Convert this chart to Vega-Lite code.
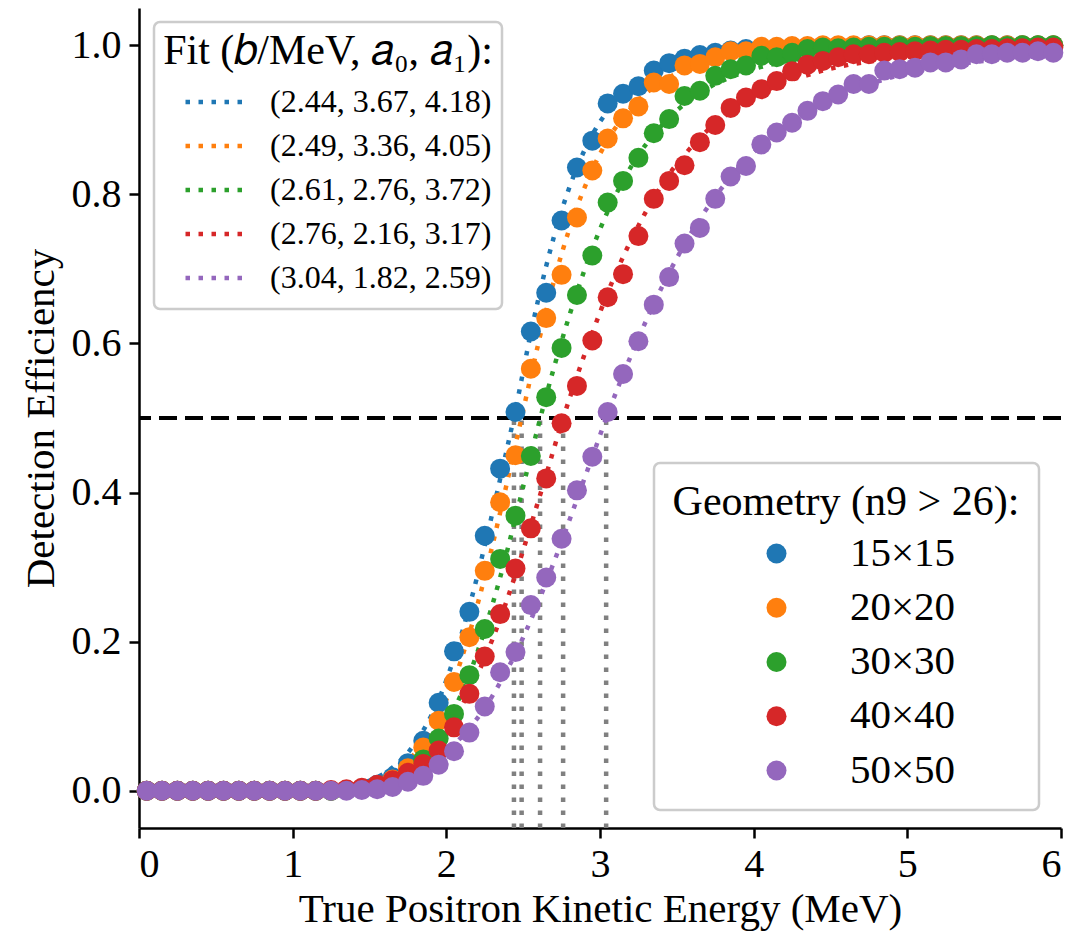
{
"$schema": "https://vega.github.io/schema/vega-lite/v6.json",
"width": 922, "height": 820,
"autosize": {"type": "none"},
"padding": {"left": 139, "top": 8, "right": 12, "bottom": 113},
"background": "white",
"config": {
  "font": "Liberation Serif",
  "view": {"stroke": null},
  "axis": {"grid": false, "domainColor": "black", "domainWidth": 2.5, "tickColor": "black", "tickWidth": 2.5, "tickSize": 10, "labelColor": "black", "titleColor": "black", "labelFont": "Liberation Serif", "titleFont": "Liberation Serif", "labelFontSize": 40, "titleFontSize": 41, "titleFontWeight": "normal"},
  "legend": {"titleFont": "Liberation Serif", "labelFont": "Liberation Serif", "titleColor": "black", "labelColor": "black", "titleFontWeight": "normal", "titleAnchor": "middle", "titleLimit": 1000, "labelLimit": 1000, "fillColor": "white", "strokeColor": "#cccccc", "cornerRadius": 6}
},
"datasets": {
  "fits": [
    {"g": "15×15", "label": "(2.44, 3.67, 4.18)", "x": 2.44},
    {"g": "20×20", "label": "(2.49, 3.36, 4.05)", "x": 2.49},
    {"g": "30×30", "label": "(2.61, 2.76, 3.72)", "x": 2.61},
    {"g": "40×40", "label": "(2.76, 2.16, 3.17)", "x": 2.76},
    {"g": "50×50", "label": "(3.04, 1.82, 2.59)", "x": 3.04}
  ],
  "pts": [
{"x":0.05,"g":"15×15","e":0,"f":0},{"x":0.15,"g":"15×15","e":0,"f":0},{"x":0.25,"g":"15×15","e":0,"f":0},{"x":0.35,"g":"15×15","e":0,"f":0},{"x":0.45,"g":"15×15","e":0,"f":0},{"x":0.55,"g":"15×15","e":0,"f":0},{"x":0.65,"g":"15×15","e":0,"f":0},{"x":0.75,"g":"15×15","e":0,"f":0},{"x":0.85,"g":"15×15","e":0,"f":0},{"x":0.95,"g":"15×15","e":0,"f":0},
{"x":1.05,"g":"15×15","e":0,"f":0.001},{"x":1.15,"g":"15×15","e":0,"f":0.001},{"x":1.25,"g":"15×15","e":0,"f":0.003},{"x":1.35,"g":"15×15","e":0.001,"f":0.005},{"x":1.45,"g":"15×15","e":0.003,"f":0.010},{"x":1.55,"g":"15×15","e":0.008,"f":0.018},{"x":1.65,"g":"15×15","e":0.018,"f":0.031},{"x":1.75,"g":"15×15","e":0.037,"f":0.051},{"x":1.85,"g":"15×15","e":0.067,"f":0.081},{"x":1.95,"g":"15×15","e":0.118,"f":0.122},
{"x":2.05,"g":"15×15","e":0.187,"f":0.178},{"x":2.15,"g":"15×15","e":0.240,"f":0.247},{"x":2.25,"g":"15×15","e":0.342,"f":0.329},{"x":2.35,"g":"15×15","e":0.432,"f":0.418},{"x":2.45,"g":"15×15","e":0.508,"f":0.511},{"x":2.55,"g":"15×15","e":0.616,"f":0.614},{"x":2.65,"g":"15×15","e":0.668,"f":0.704},{"x":2.75,"g":"15×15","e":0.765,"f":0.778},{"x":2.85,"g":"15×15","e":0.836,"f":0.836},{"x":2.95,"g":"15×15","e":0.872,"f":0.880},
{"x":3.05,"g":"15×15","e":0.922,"f":0.912},{"x":3.15,"g":"15×15","e":0.935,"f":0.936},{"x":3.25,"g":"15×15","e":0.945,"f":0.953},{"x":3.35,"g":"15×15","e":0.966,"f":0.965},{"x":3.45,"g":"15×15","e":0.976,"f":0.974},{"x":3.55,"g":"15×15","e":0.982,"f":0.981},{"x":3.65,"g":"15×15","e":0.987,"f":0.986},{"x":3.75,"g":"15×15","e":0.990,"f":0.989},{"x":3.85,"g":"15×15","e":0.993,"f":0.992},{"x":3.95,"g":"15×15","e":0.995,"f":0.994},
{"x":4.05,"g":"15×15","e":0.996,"f":0.995},{"x":4.15,"g":"15×15","e":0.997,"f":0.996},{"x":4.25,"g":"15×15","e":0.998,"f":0.997},{"x":4.35,"g":"15×15","e":0.998,"f":0.998},{"x":4.45,"g":"15×15","e":0.999,"f":0.998},{"x":4.55,"g":"15×15","e":0.999,"f":0.999},{"x":4.65,"g":"15×15","e":0.999,"f":0.999},{"x":4.75,"g":"15×15","e":1,"f":0.999},{"x":4.85,"g":"15×15","e":1,"f":0.999},{"x":4.95,"g":"15×15","e":1,"f":0.999},
{"x":5.05,"g":"15×15","e":1,"f":1},{"x":5.15,"g":"15×15","e":1,"f":1},{"x":5.25,"g":"15×15","e":1,"f":1},{"x":5.35,"g":"15×15","e":1,"f":1},{"x":5.45,"g":"15×15","e":1,"f":1},{"x":5.55,"g":"15×15","e":1,"f":1},{"x":5.65,"g":"15×15","e":1,"f":1},{"x":5.75,"g":"15×15","e":1,"f":1},{"x":5.85,"g":"15×15","e":1,"f":1},{"x":5.95,"g":"15×15","e":1,"f":1},

{"x":0.05,"g":"20×20","e":0,"f":0},{"x":0.15,"g":"20×20","e":0,"f":0},{"x":0.25,"g":"20×20","e":0,"f":0},{"x":0.35,"g":"20×20","e":0,"f":0},{"x":0.45,"g":"20×20","e":0,"f":0},{"x":0.55,"g":"20×20","e":0,"f":0},{"x":0.65,"g":"20×20","e":0,"f":0},{"x":0.75,"g":"20×20","e":0,"f":0},{"x":0.85,"g":"20×20","e":0,"f":0},{"x":0.95,"g":"20×20","e":0,"f":0},
{"x":1.05,"g":"20×20","e":0,"f":0},{"x":1.15,"g":"20×20","e":0,"f":0.001},{"x":1.25,"g":"20×20","e":0,"f":0.002},{"x":1.35,"g":"20×20","e":0.001,"f":0.004},{"x":1.45,"g":"20×20","e":0.003,"f":0.008},{"x":1.55,"g":"20×20","e":0.007,"f":0.014},{"x":1.65,"g":"20×20","e":0.015,"f":0.024},{"x":1.75,"g":"20×20","e":0.030,"f":0.040},{"x":1.85,"g":"20×20","e":0.058,"f":0.065},{"x":1.95,"g":"20×20","e":0.094,"f":0.100},
{"x":2.05,"g":"20×20","e":0.146,"f":0.148},{"x":2.15,"g":"20×20","e":0.206,"f":0.211},{"x":2.25,"g":"20×20","e":0.295,"f":0.287},{"x":2.35,"g":"20×20","e":0.387,"f":0.373},{"x":2.45,"g":"20×20","e":0.450,"f":0.464},{"x":2.55,"g":"20×20","e":0.566,"f":0.556},{"x":2.65,"g":"20×20","e":0.634,"f":0.644},{"x":2.75,"g":"20×20","e":0.692,"f":0.720},{"x":2.85,"g":"20×20","e":0.769,"f":0.783},{"x":2.95,"g":"20×20","e":0.832,"f":0.833},
{"x":3.05,"g":"20×20","e":0.875,"f":0.873},{"x":3.15,"g":"20×20","e":0.902,"f":0.903},{"x":3.25,"g":"20×20","e":0.918,"f":0.926},{"x":3.35,"g":"20×20","e":0.950,"f":0.944},{"x":3.45,"g":"20×20","e":0.948,"f":0.957},{"x":3.55,"g":"20×20","e":0.973,"f":0.967},{"x":3.65,"g":"20×20","e":0.975,"f":0.974},{"x":3.75,"g":"20×20","e":0.984,"f":0.980},{"x":3.85,"g":"20×20","e":0.992,"f":0.984},{"x":3.95,"g":"20×20","e":0.992,"f":0.988},
{"x":4.05,"g":"20×20","e":0.998,"f":0.990},{"x":4.15,"g":"20×20","e":0.998,"f":0.992},{"x":4.25,"g":"20×20","e":0.999,"f":0.994},{"x":4.35,"g":"20×20","e":0.999,"f":0.995},{"x":4.45,"g":"20×20","e":1,"f":0.996},{"x":4.55,"g":"20×20","e":1,"f":0.997},{"x":4.65,"g":"20×20","e":1,"f":0.997},{"x":4.75,"g":"20×20","e":1,"f":0.998},{"x":4.85,"g":"20×20","e":1,"f":0.998},{"x":4.95,"g":"20×20","e":1,"f":0.999},
{"x":5.05,"g":"20×20","e":1,"f":0.999},{"x":5.15,"g":"20×20","e":1,"f":0.999},{"x":5.25,"g":"20×20","e":1,"f":0.999},{"x":5.35,"g":"20×20","e":1,"f":0.999},{"x":5.45,"g":"20×20","e":1,"f":0.999},{"x":5.55,"g":"20×20","e":1,"f":0.999},{"x":5.65,"g":"20×20","e":1,"f":0.999},{"x":5.75,"g":"20×20","e":1,"f":1},{"x":5.85,"g":"20×20","e":1,"f":1},{"x":5.95,"g":"20×20","e":1,"f":1},

{"x":0.05,"g":"30×30","e":0,"f":0},{"x":0.15,"g":"30×30","e":0,"f":0},{"x":0.25,"g":"30×30","e":0,"f":0},{"x":0.35,"g":"30×30","e":0,"f":0},{"x":0.45,"g":"30×30","e":0,"f":0},{"x":0.55,"g":"30×30","e":0,"f":0},{"x":0.65,"g":"30×30","e":0,"f":0},{"x":0.75,"g":"30×30","e":0,"f":0},{"x":0.85,"g":"30×30","e":0,"f":0},{"x":0.95,"g":"30×30","e":0,"f":0},
{"x":1.05,"g":"30×30","e":0,"f":0},{"x":1.15,"g":"30×30","e":0,"f":0.001},{"x":1.25,"g":"30×30","e":0,"f":0.002},{"x":1.35,"g":"30×30","e":0.001,"f":0.003},{"x":1.45,"g":"30×30","e":0.002,"f":0.006},{"x":1.55,"g":"30×30","e":0.005,"f":0.011},{"x":1.65,"g":"30×30","e":0.011,"f":0.018},{"x":1.75,"g":"30×30","e":0.022,"f":0.030},{"x":1.85,"g":"30×30","e":0.042,"f":0.048},{"x":1.95,"g":"30×30","e":0.070,"f":0.073},
{"x":2.05,"g":"30×30","e":0.103,"f":0.109},{"x":2.15,"g":"30×30","e":0.155,"f":0.156},{"x":2.25,"g":"30×30","e":0.217,"f":0.216},{"x":2.35,"g":"30×30","e":0.311,"f":0.286},{"x":2.45,"g":"30×30","e":0.369,"f":0.366},{"x":2.55,"g":"30×30","e":0.449,"f":0.450},{"x":2.65,"g":"30×30","e":0.528,"f":0.530},{"x":2.75,"g":"30×30","e":0.594,"f":0.603},{"x":2.85,"g":"30×30","e":0.665,"f":0.669},{"x":2.95,"g":"30×30","e":0.718,"f":0.727},
{"x":3.05,"g":"30×30","e":0.789,"f":0.777},{"x":3.15,"g":"30×30","e":0.818,"f":0.818},{"x":3.25,"g":"30×30","e":0.849,"f":0.853},{"x":3.35,"g":"30×30","e":0.882,"f":0.880},{"x":3.45,"g":"30×30","e":0.901,"f":0.903},{"x":3.55,"g":"30×30","e":0.932,"f":0.921},{"x":3.65,"g":"30×30","e":0.939,"f":0.936},{"x":3.75,"g":"30×30","e":0.959,"f":0.948},{"x":3.85,"g":"30×30","e":0.968,"f":0.957},{"x":3.95,"g":"30×30","e":0.973,"f":0.965},
{"x":4.05,"g":"30×30","e":0.986,"f":0.971},{"x":4.15,"g":"30×30","e":0.984,"f":0.976},{"x":4.25,"g":"30×30","e":0.990,"f":0.980},{"x":4.35,"g":"30×30","e":0.995,"f":0.983},{"x":4.45,"g":"30×30","e":0.997,"f":0.986},{"x":4.55,"g":"30×30","e":0.996,"f":0.988},{"x":4.65,"g":"30×30","e":0.997,"f":0.990},{"x":4.75,"g":"30×30","e":0.998,"f":0.992},{"x":4.85,"g":"30×30","e":0.998,"f":0.993},{"x":4.95,"g":"30×30","e":0.999,"f":0.994},
{"x":5.05,"g":"30×30","e":0.998,"f":0.995},{"x":5.15,"g":"30×30","e":0.999,"f":0.996},{"x":5.25,"g":"30×30","e":0.999,"f":0.996},{"x":5.35,"g":"30×30","e":0.999,"f":0.997},{"x":5.45,"g":"30×30","e":0.999,"f":0.997},{"x":5.55,"g":"30×30","e":1,"f":0.998},{"x":5.65,"g":"30×30","e":0.999,"f":0.998},{"x":5.75,"g":"30×30","e":1,"f":0.998},{"x":5.85,"g":"30×30","e":1,"f":0.998},{"x":5.95,"g":"30×30","e":1,"f":0.999},

{"x":0.05,"g":"40×40","e":0,"f":0},{"x":0.15,"g":"40×40","e":0,"f":0},{"x":0.25,"g":"40×40","e":0,"f":0},{"x":0.35,"g":"40×40","e":0,"f":0},{"x":0.45,"g":"40×40","e":0,"f":0},{"x":0.55,"g":"40×40","e":0,"f":0},{"x":0.65,"g":"40×40","e":0,"f":0},{"x":0.75,"g":"40×40","e":0,"f":0},{"x":0.85,"g":"40×40","e":0,"f":0},{"x":0.95,"g":"40×40","e":0,"f":0},
{"x":1.05,"g":"40×40","e":0,"f":0.001},{"x":1.15,"g":"40×40","e":0,"f":0.001},{"x":1.25,"g":"40×40","e":0.001,"f":0.003},{"x":1.35,"g":"40×40","e":0.002,"f":0.005},{"x":1.45,"g":"40×40","e":0.004,"f":0.008},{"x":1.55,"g":"40×40","e":0.008,"f":0.013},{"x":1.65,"g":"40×40","e":0.014,"f":0.021},{"x":1.75,"g":"40×40","e":0.024,"f":0.032},{"x":1.85,"g":"40×40","e":0.036,"f":0.047},{"x":1.95,"g":"40×40","e":0.054,"f":0.069},
{"x":2.05,"g":"40×40","e":0.085,"f":0.097},{"x":2.15,"g":"40×40","e":0.130,"f":0.133},{"x":2.25,"g":"40×40","e":0.180,"f":0.178},{"x":2.35,"g":"40×40","e":0.237,"f":0.230},{"x":2.45,"g":"40×40","e":0.298,"f":0.290},{"x":2.55,"g":"40×40","e":0.352,"f":0.356},{"x":2.65,"g":"40×40","e":0.419,"f":0.424},{"x":2.75,"g":"40×40","e":0.493,"f":0.493},{"x":2.85,"g":"40×40","e":0.543,"f":0.556},{"x":2.95,"g":"40×40","e":0.604,"f":0.614},
{"x":3.05,"g":"40×40","e":0.662,"f":0.668},{"x":3.15,"g":"40×40","e":0.693,"f":0.716},{"x":3.25,"g":"40×40","e":0.744,"f":0.758},{"x":3.35,"g":"40×40","e":0.794,"f":0.795},{"x":3.45,"g":"40×40","e":0.818,"f":0.827},{"x":3.55,"g":"40×40","e":0.839,"f":0.853},{"x":3.65,"g":"40×40","e":0.870,"f":0.876},{"x":3.75,"g":"40×40","e":0.893,"f":0.895},{"x":3.85,"g":"40×40","e":0.916,"f":0.911},{"x":3.95,"g":"40×40","e":0.930,"f":0.925},
{"x":4.05,"g":"40×40","e":0.941,"f":0.936},{"x":4.15,"g":"40×40","e":0.952,"f":0.946},{"x":4.25,"g":"40×40","e":0.965,"f":0.954},{"x":4.35,"g":"40×40","e":0.974,"f":0.960},{"x":4.45,"g":"40×40","e":0.979,"f":0.966},{"x":4.55,"g":"40×40","e":0.984,"f":0.971},{"x":4.65,"g":"40×40","e":0.988,"f":0.975},{"x":4.75,"g":"40×40","e":0.988,"f":0.978},{"x":4.85,"g":"40×40","e":0.990,"f":0.981},{"x":4.95,"g":"40×40","e":0.991,"f":0.984},
{"x":5.05,"g":"40×40","e":0.992,"f":0.986},{"x":5.15,"g":"40×40","e":0.993,"f":0.987},{"x":5.25,"g":"40×40","e":0.994,"f":0.989},{"x":5.35,"g":"40×40","e":0.994,"f":0.990},{"x":5.45,"g":"40×40","e":0.995,"f":0.992},{"x":5.55,"g":"40×40","e":0.995,"f":0.993},{"x":5.65,"g":"40×40","e":0.996,"f":0.993},{"x":5.75,"g":"40×40","e":0.996,"f":0.994},{"x":5.85,"g":"40×40","e":0.997,"f":0.995},{"x":5.95,"g":"40×40","e":0.997,"f":0.995},

{"x":0.05,"g":"50×50","e":0,"f":0},{"x":0.15,"g":"50×50","e":0,"f":0},{"x":0.25,"g":"50×50","e":0,"f":0},{"x":0.35,"g":"50×50","e":0,"f":0},{"x":0.45,"g":"50×50","e":0,"f":0},{"x":0.55,"g":"50×50","e":0,"f":0},{"x":0.65,"g":"50×50","e":0,"f":0},{"x":0.75,"g":"50×50","e":0,"f":0},{"x":0.85,"g":"50×50","e":0,"f":0},{"x":0.95,"g":"50×50","e":0,"f":0},
{"x":1.05,"g":"50×50","e":0,"f":0.001},{"x":1.15,"g":"50×50","e":0,"f":0.001},{"x":1.25,"g":"50×50","e":0,"f":0.002},{"x":1.35,"g":"50×50","e":0,"f":0.004},{"x":1.45,"g":"50×50","e":0.001,"f":0.006},{"x":1.55,"g":"50×50","e":0.002,"f":0.010},{"x":1.65,"g":"50×50","e":0.005,"f":0.015},{"x":1.75,"g":"50×50","e":0.012,"f":0.022},{"x":1.85,"g":"50×50","e":0.020,"f":0.032},{"x":1.95,"g":"50×50","e":0.035,"f":0.045},
{"x":2.05,"g":"50×50","e":0.053,"f":0.062},{"x":2.15,"g":"50×50","e":0.078,"f":0.084},{"x":2.25,"g":"50×50","e":0.113,"f":0.111},{"x":2.35,"g":"50×50","e":0.159,"f":0.145},{"x":2.45,"g":"50×50","e":0.186,"f":0.184},{"x":2.55,"g":"50×50","e":0.249,"f":0.229},{"x":2.65,"g":"50×50","e":0.286,"f":0.280},{"x":2.75,"g":"50×50","e":0.338,"f":0.334},{"x":2.85,"g":"50×50","e":0.403,"f":0.391},{"x":2.95,"g":"50×50","e":0.448,"f":0.448},
{"x":3.05,"g":"50×50","e":0.508,"f":0.505},{"x":3.15,"g":"50×50","e":0.559,"f":0.558},{"x":3.25,"g":"50×50","e":0.603,"f":0.607},{"x":3.35,"g":"50×50","e":0.652,"f":0.653},{"x":3.45,"g":"50×50","e":0.689,"f":0.695},{"x":3.55,"g":"50×50","e":0.734,"f":0.733},{"x":3.65,"g":"50×50","e":0.755,"f":0.767},{"x":3.75,"g":"50×50","e":0.794,"f":0.797},{"x":3.85,"g":"50×50","e":0.824,"f":0.823},{"x":3.95,"g":"50×50","e":0.838,"f":0.846},
{"x":4.05,"g":"50×50","e":0.867,"f":0.866},{"x":4.15,"g":"50×50","e":0.883,"f":0.883},{"x":4.25,"g":"50×50","e":0.896,"f":0.898},{"x":4.35,"g":"50×50","e":0.912,"f":0.911},{"x":4.45,"g":"50×50","e":0.925,"f":0.923},{"x":4.55,"g":"50×50","e":0.934,"f":0.932},{"x":4.65,"g":"50×50","e":0.948,"f":0.941},{"x":4.75,"g":"50×50","e":0.948,"f":0.948},{"x":4.85,"g":"50×50","e":0.966,"f":0.954},{"x":4.95,"g":"50×50","e":0.968,"f":0.960},
{"x":5.05,"g":"50×50","e":0.970,"f":0.964},{"x":5.15,"g":"50×50","e":0.977,"f":0.969},{"x":5.25,"g":"50×50","e":0.977,"f":0.972},{"x":5.35,"g":"50×50","e":0.981,"f":0.975},{"x":5.45,"g":"50×50","e":0.988,"f":0.978},{"x":5.55,"g":"50×50","e":0.988,"f":0.980},{"x":5.65,"g":"50×50","e":0.990,"f":0.983},{"x":5.75,"g":"50×50","e":0.990,"f":0.984},{"x":5.85,"g":"50×50","e":0.992,"f":0.986},{"x":5.95,"g":"50×50","e":0.990,"f":0.987}
  ]
},
"layer": [
  {
    "data": {"values": [{"y": 0.5}]},
    "mark": {"type": "rule", "color": "black", "strokeWidth": 4, "strokeDash": [18, 8]},
    "encoding": {
      "y": {"field": "y", "type": "quantitative", "title": "Detection Efficiency", "scale": {"domain": [-0.05, 1.05], "nice": false, "zero": false}}
    }
  },
  {
    "data": {"name": "fits"},
    "mark": {"type": "rule", "color": "#808080", "strokeWidth": 4.5, "strokeDash": [4.5, 8.5]},
    "encoding": {
      "x": {"field": "x", "type": "quantitative", "title": "True Positron Kinetic Energy (MeV)", "scale": {"domain": [0, 6], "nice": false}},
      "y": {"datum": -0.05},
      "y2": {"datum": 0.5}
    }
  },
  {
    "data": {"name": "pts"},
    "transform": [{"lookup": "g", "from": {"data": {"name": "fits"}, "key": "g", "fields": ["label"]}}],
    "mark": {"type": "line", "strokeWidth": 4.5, "strokeDash": [4.5, 8.5], "interpolate": "monotone"},
    "encoding": {
      "x": {"field": "x", "type": "quantitative", "title": "True Positron Kinetic Energy (MeV)", "scale": {"domain": [0, 6], "nice": false}},
      "y": {"field": "f", "type": "quantitative", "title": "Detection Efficiency", "scale": {"domain": [-0.05, 1.05], "nice": false, "zero": false}},
      "stroke": {
        "field": "label", "type": "nominal",
        "scale": {"domain": ["(2.44, 3.67, 4.18)", "(2.49, 3.36, 4.05)", "(2.61, 2.76, 3.72)", "(2.76, 2.16, 3.17)", "(3.04, 1.82, 2.59)"], "range": ["#1f77b4", "#ff7f0e", "#2ca02c", "#d62728", "#9467bd"]},
        "legend": {
          "title": "Fit (𝑏/MeV, 𝑎₀, 𝑎₁):",
          "orient": "none", "legendX": 15, "legendY": 14, "padding": 9,
          "titleFontSize": 42, "titlePadding": 7,
          "labelFontSize": 32, "labelOffset": 24,
          "symbolType": "stroke", "symbolSize": 3364, "symbolStrokeWidth": 4.5, "symbolDash": [4.5, 8.5], "symbolOffset": 18,
          "clipHeight": 44, "rowPadding": 0,
          "encode": {"legend": {"update": {"strokeWidth": {"value": 2.5}}}}
        }
      }
    }
  },
  {
    "data": {"name": "pts"},
    "mark": {"type": "circle", "size": 400, "opacity": 1, "strokeWidth": 0},
    "encoding": {
      "x": {"field": "x", "type": "quantitative", "title": "True Positron Kinetic Energy (MeV)", "scale": {"domain": [0, 6], "nice": false},
            "axis": {"values": [0, 1, 2, 3, 4, 5, 6], "format": "d", "labelPadding": 6, "titlePadding": 5}},
      "y": {"field": "e", "type": "quantitative", "title": "Detection Efficiency", "scale": {"domain": [-0.05, 1.05], "nice": false, "zero": false},
            "axis": {"values": [0, 0.2, 0.4, 0.6, 0.8, 1.0], "format": ".1f", "labelPadding": 8, "titlePadding": 9}},
      "color": {
        "field": "g", "type": "nominal",
        "scale": {"domain": ["15×15", "20×20", "30×30", "40×40", "50×50"], "range": ["#1f77b4", "#ff7f0e", "#2ca02c", "#d62728", "#9467bd"]},
        "legend": {
          "title": "Geometry (n9 > 26):",
          "orient": "none", "legendX": 515, "legendY": 455, "padding": 19,
          "titleFontSize": 42, "titlePadding": 9,
          "labelFontSize": 41, "labelOffset": 53,
          "symbolType": "circle", "symbolSize": 400, "symbolOffset": 20, "symbolStrokeWidth": 0, "symbolOpacity": 1,
          "rowPadding": 12.25,
          "encode": {"legend": {"update": {"strokeWidth": {"value": 2.5}}}}
        }
      }
    }
  }
]
}
